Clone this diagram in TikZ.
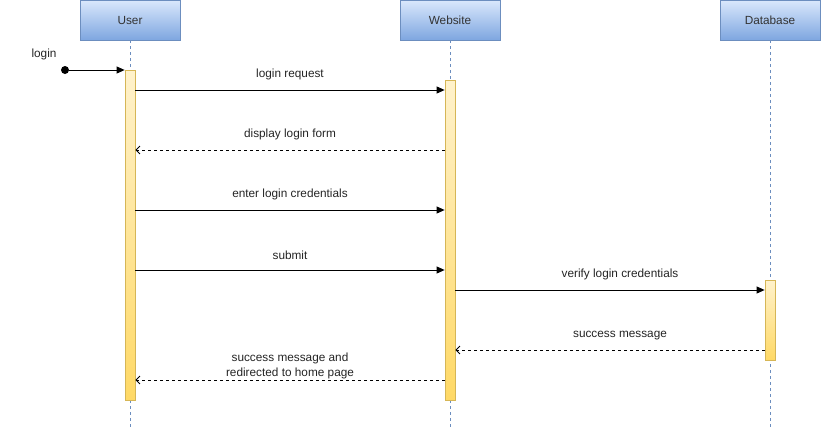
\documentclass[tikz,border=0pt]{standalone}
\usepackage{fontspec}
\setmainfont{Liberation Sans}
\usetikzlibrary{arrows.meta}

\definecolor{headtop}{HTML}{DAE8FC}
\definecolor{headbot}{HTML}{7EA6E0}
\definecolor{headline}{HTML}{6C8EBF}
\definecolor{bartop}{HTML}{FFF2CC}
\definecolor{barbot}{HTML}{FFD966}
\definecolor{barline}{HTML}{D6B656}
\definecolor{txt}{HTML}{333333}

\tikzset{
  head/.style={draw=headline, top color=headtop, bottom color=headbot,
    minimum width=100pt, minimum height=40pt, inner sep=0pt, text=txt},
  bar/.style={draw=barline, top color=bartop, bottom color=barbot,
    minimum width=10pt, inner sep=0pt},
  life/.style={draw=headline, dash pattern=on 3pt off 3pt},
  call/.style={-{Triangle[length=8pt,width=7pt]}},
  reply/.style={dash pattern=on 3pt off 3pt, -{Straight Barb[length=4pt,width=8pt]}},
  lbl/.style={font=\fontsize{11.8}{15}\selectfont, inner sep=1pt, text=txt!70!black}
}

\begin{document}
\begin{tikzpicture}[x=1pt, y=-1pt, line width=0.8pt, font=\fontsize{11.8}{15}\selectfont]
        \useasboundingbox (0,0) rectangle (821,431);

        % heads
        \begin{scope}[every node/.style={head}]
          \node (u) at (130,20) {User};
          \node (w) at (450,20) {Website};
          \node (d) at (770,20) {Database};
        \end{scope}

        % lifelines
        \coordinate (end) at (0,427);
        \draw[life] (u.south) -- (u.south |- end);
        \draw[life] (w.south) -- (w.south |- end);
        \draw[life] (d.south) -- (d.south |- end);

        % activations
        \begin{scope}[every node/.style={bar}]
          \node (ua) at (130,235) [minimum height=330pt] {};
          \node (wa) at (450,240) [minimum height=320pt] {};
          \node (da) at (770,320) [minimum height=80pt] {};
        \end{scope}

        % message heights
        \coordinate (m0) at (0,70);
        \coordinate (m1) at (0,90);
        \coordinate (m2) at (0,150);
        \coordinate (m3) at (0,210);
        \coordinate (m4) at (0,270);
        \coordinate (m5) at (0,290);
        \coordinate (m6) at (0,350);
        \coordinate (m7) at (0,380);

        % found message
        \node (dot) at (65,70) [circle, fill, inner sep=0pt, minimum size=8pt] {};
        \node (in) at (44,54) [lbl] {login};
        \draw[call] (dot) -- (ua.west |- m0);

        \begin{scope}[every node/.style={lbl, midway, above=9pt}]
          \draw[call]  (ua.east |- m1) -- node {login request} (wa.west |- m1);
          \draw[reply] (wa.west |- m2) -- node {display login form} (ua.east |- m2);
          \draw[call]  (ua.east |- m3) -- node {enter login credentials} (wa.west |- m3);
          \draw[call]  (ua.east |- m4) -- node {submit} (wa.west |- m4);
          \draw[call]  (wa.east |- m5) -- node[xshift=10pt] {verify login credentials} (da.west |- m5);
          \draw[reply] (da.west |- m6) -- node[xshift=10pt] {success message} (wa.east |- m6);
          \draw[reply] (wa.west |- m7) -- node[above=-9pt, align=center]
            {success message and\\redirected to home page} (ua.east |- m7);
        \end{scope}

      \end{tikzpicture}
\end{document}
